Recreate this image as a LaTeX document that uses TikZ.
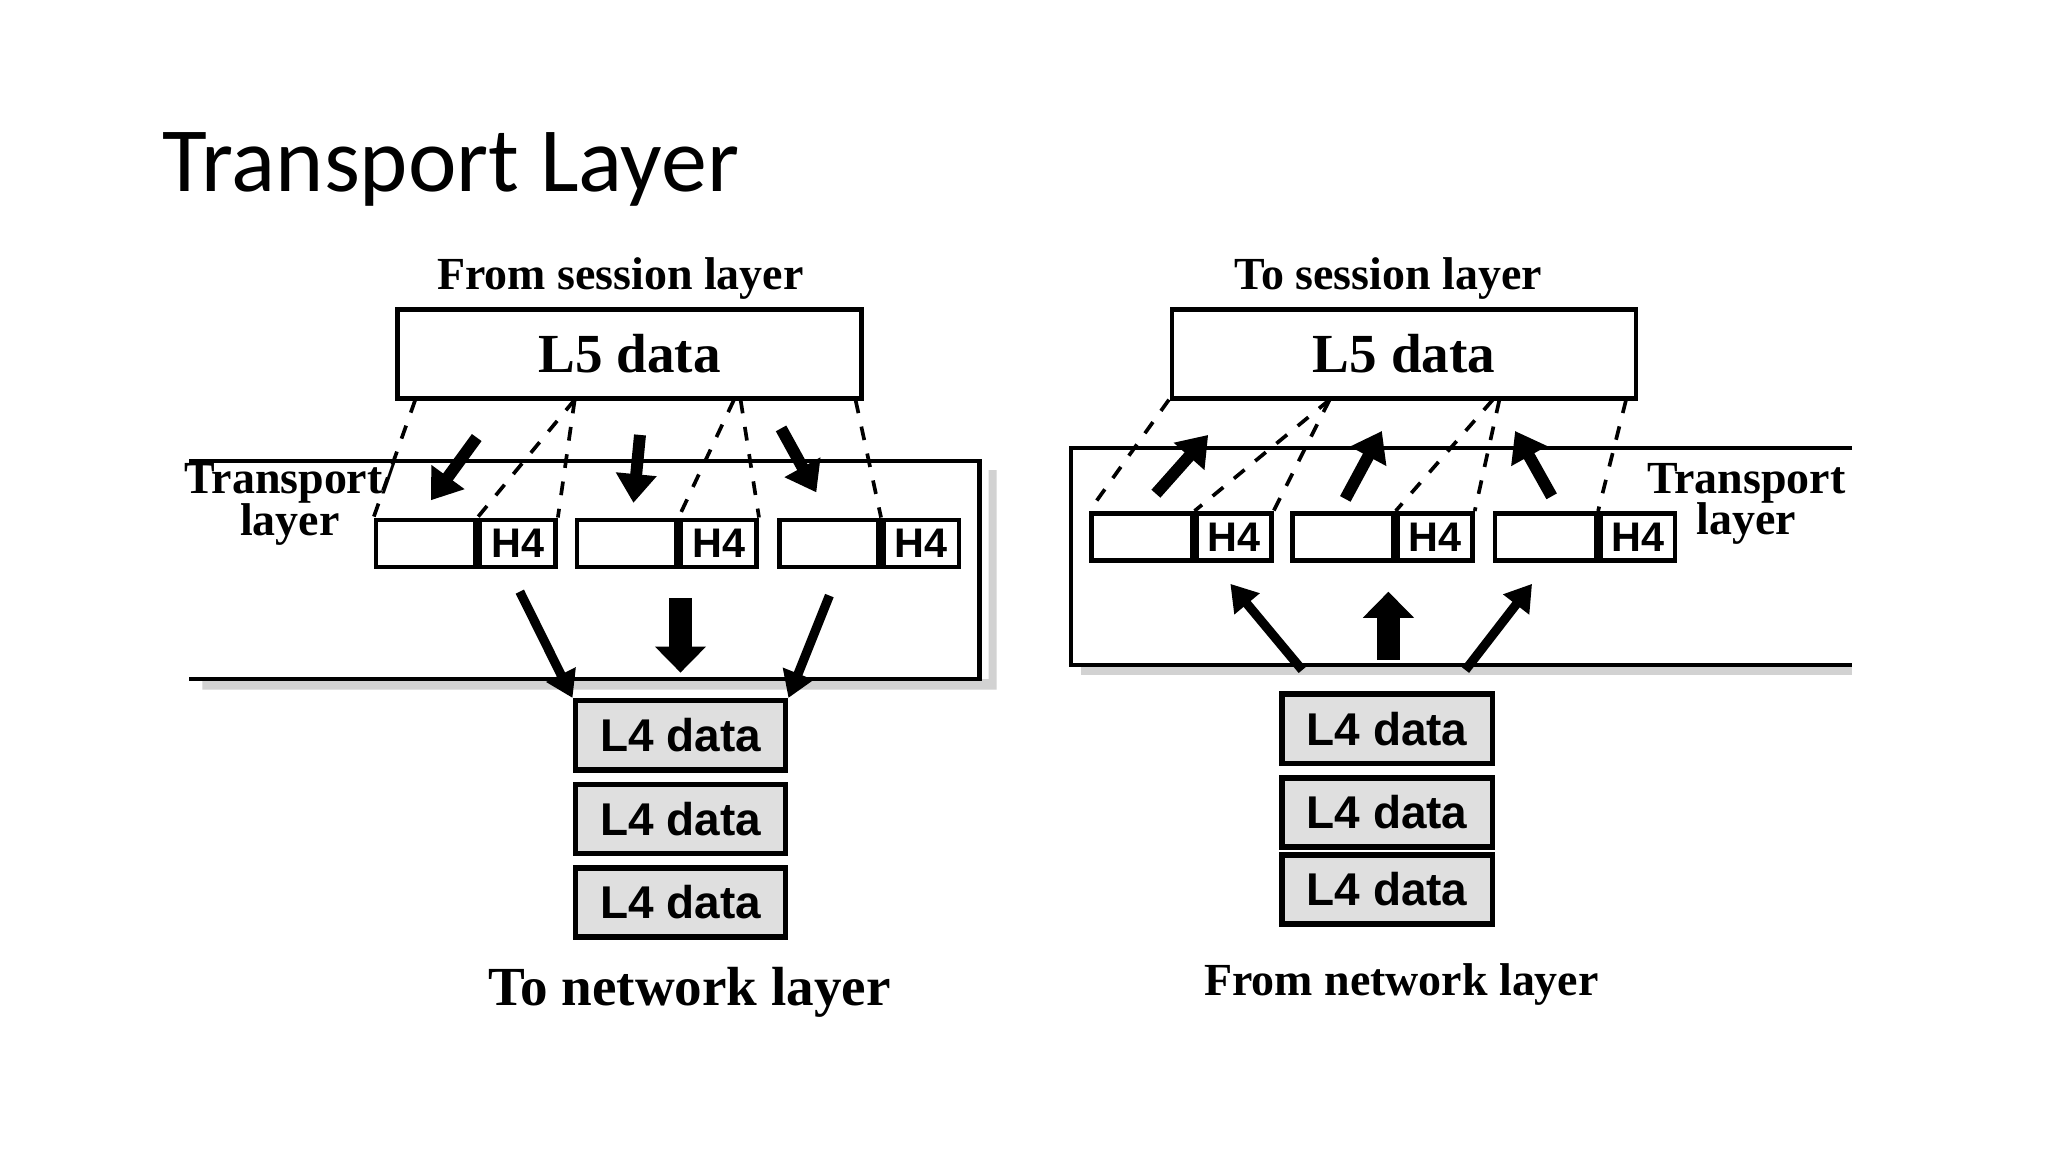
\documentclass[tikz,border=0pt]{standalone}
\usepackage{fontspec}
\setmainfont{Liberation Serif}
\newfontfamily\titlefont{Carlito}
\newfontfamily\boxfont{Liberation Sans}
\usetikzlibrary{arrows.meta,positioning}
\tikzset{
  seg/.style={draw, line width=1pt, fill=white, minimum height=0.36cm, inner sep=0pt},
  lfour/.style={draw, line width=1.2pt, fill=gray!25, minimum width=1.61cm, minimum height=0.53cm, inner sep=0pt, font=\boxfont\bfseries\normalsize},
  lfive/.style={draw, line width=1pt, fill=white, minimum width=3.55cm, minimum height=0.68cm, font=\bfseries\large},
  lbl/.style={font=\bfseries\normalsize},
  split/.style={dashed, line width=0.8pt},
  fatarrow/.style={line width=2.6pt, -{Triangle[length=0.22cm, width=0.3cm]}},
  slimarrow/.style={line width=2pt, -{Triangle[length=0.2cm, width=0.24cm]}},
  blockarrow/.style={line width=5pt, -{Triangle[length=0.2cm, width=0.38cm]}},
}
\begin{document}
\begin{tikzpicture}[x=0.01cm, y=-0.01cm]
   \useasboundingbox[fill=white] (0,0) rectangle (1568,882);
   \node[anchor=west, font=\titlefont\fontsize{20}{24}\selectfont] (title) at (112,130) {Transport Layer};
   % left: sending side
   \fill[gray!35] (155,520) -- (757,520) -- (757,360) -- (763,360) -- (763,528) -- (155,528) -- cycle;
   \draw[line width=1pt, fill=white] (145,353) -- (750,353) -- (750,520) -- (145,520);
   \node[lbl] (from) at (475,213) {From session layer};
   \node[lfive] (lA) at (482,271) {L5 data};
   \node[lbl, align=center, inner sep=0pt] (trA) at (222,386) {Transport/\\[-3pt]layer};
   \foreach \n/\x in {1/286, 2/440, 3/595} {
      \node[seg, anchor=west, minimum width=0.76cm] (bA\n) at (\x,416) {};
      \node[seg, anchor=west, minimum width=0.58cm, font=\boxfont\bfseries\small] (hA\n) at (bA\n.east) {H4};
   }
   \foreach \n/\y in {1/563, 2/627, 3/691} {
      \node[lfour] (dA\n) at (521,\y) {L4 data};
   }
   \node[lbl, font=\bfseries\large] (tonet) at (528,760) {To network layer};
   \draw[split] (318,306) -- (bA1.north west);
   \draw[split] (440,306) -- (hA1.north west);
   \draw[split] (440,306) -- (hA1.north east);
   \draw[split] (562,306) -- (hA2.north west);
   \draw[split] (567,306) -- (hA2.north east);
   \draw[split] (655,306) -- (hA3.north west);
   \draw[fatarrow] (365,335) -- (330,383);
   \draw[fatarrow] (490,333) -- (485,385);
   \draw[fatarrow] (598,328) -- (625,377);
   \draw[slimarrow] (398,453) -- (dA1.north west);
   \draw[blockarrow] (521,458) -- (521,515);
   \draw[slimarrow] (635,456) -- (dA1.north east);
   % right: receiving side
   \fill[gray!35] (828,509) -- (1418,509) -- (1418,517) -- (828,517) -- cycle;
   \draw[line width=1pt, fill=white] (1418,343) -- (820,343) -- (820,509) -- (1418,509);
   \node[lbl] (to) at (1063,213) {To session layer};
   \node[lfive] (lB) at (1075,271) {L5 data};
   \node[lbl, align=center, inner sep=0pt] (trB) at (1337,386) {Transport\\[-3pt]layer};
   \foreach \n/\x in {1/834, 2/988, 3/1143} {
      \node[seg, anchor=west, minimum width=0.77cm] (bB\n) at (\x,411) {};
      \node[seg, anchor=west, minimum width=0.57cm, font=\boxfont\bfseries\small] (hB\n) at (bB\n.east) {H4};
   }
   \foreach \n/\y in {1/558, 2/622, 3/681} {
      \node[lfour] (dB\n) at (1062,\y) {L4 data};
   }
   \node[lbl] (fromnet) at (1073,754) {From network layer};
   \draw[split] (895,306) -- (bB1.north west);
   \draw[split] (1018,306) -- (hB1.north west);
   \draw[split] (1018,306) -- (hB1.north east);
   \draw[split] (1143,306) -- (hB2.north west);
   \draw[split] (1148,306) -- (hB2.north east);
   \draw[split] (1245,306) -- (hB3.north west);
   \draw[fatarrow] (885,378) -- (925,333);
   \draw[fatarrow] (1030,382) -- (1058,330);
   \draw[fatarrow] (1188,380) -- (1160,330);
   \draw[slimarrow] (997,513) -- (942,447);
   \draw[blockarrow] (1063,505) -- (1063,453);
   \draw[slimarrow] (1122,513) -- (1173,447);
\end{tikzpicture}
\end{document}
